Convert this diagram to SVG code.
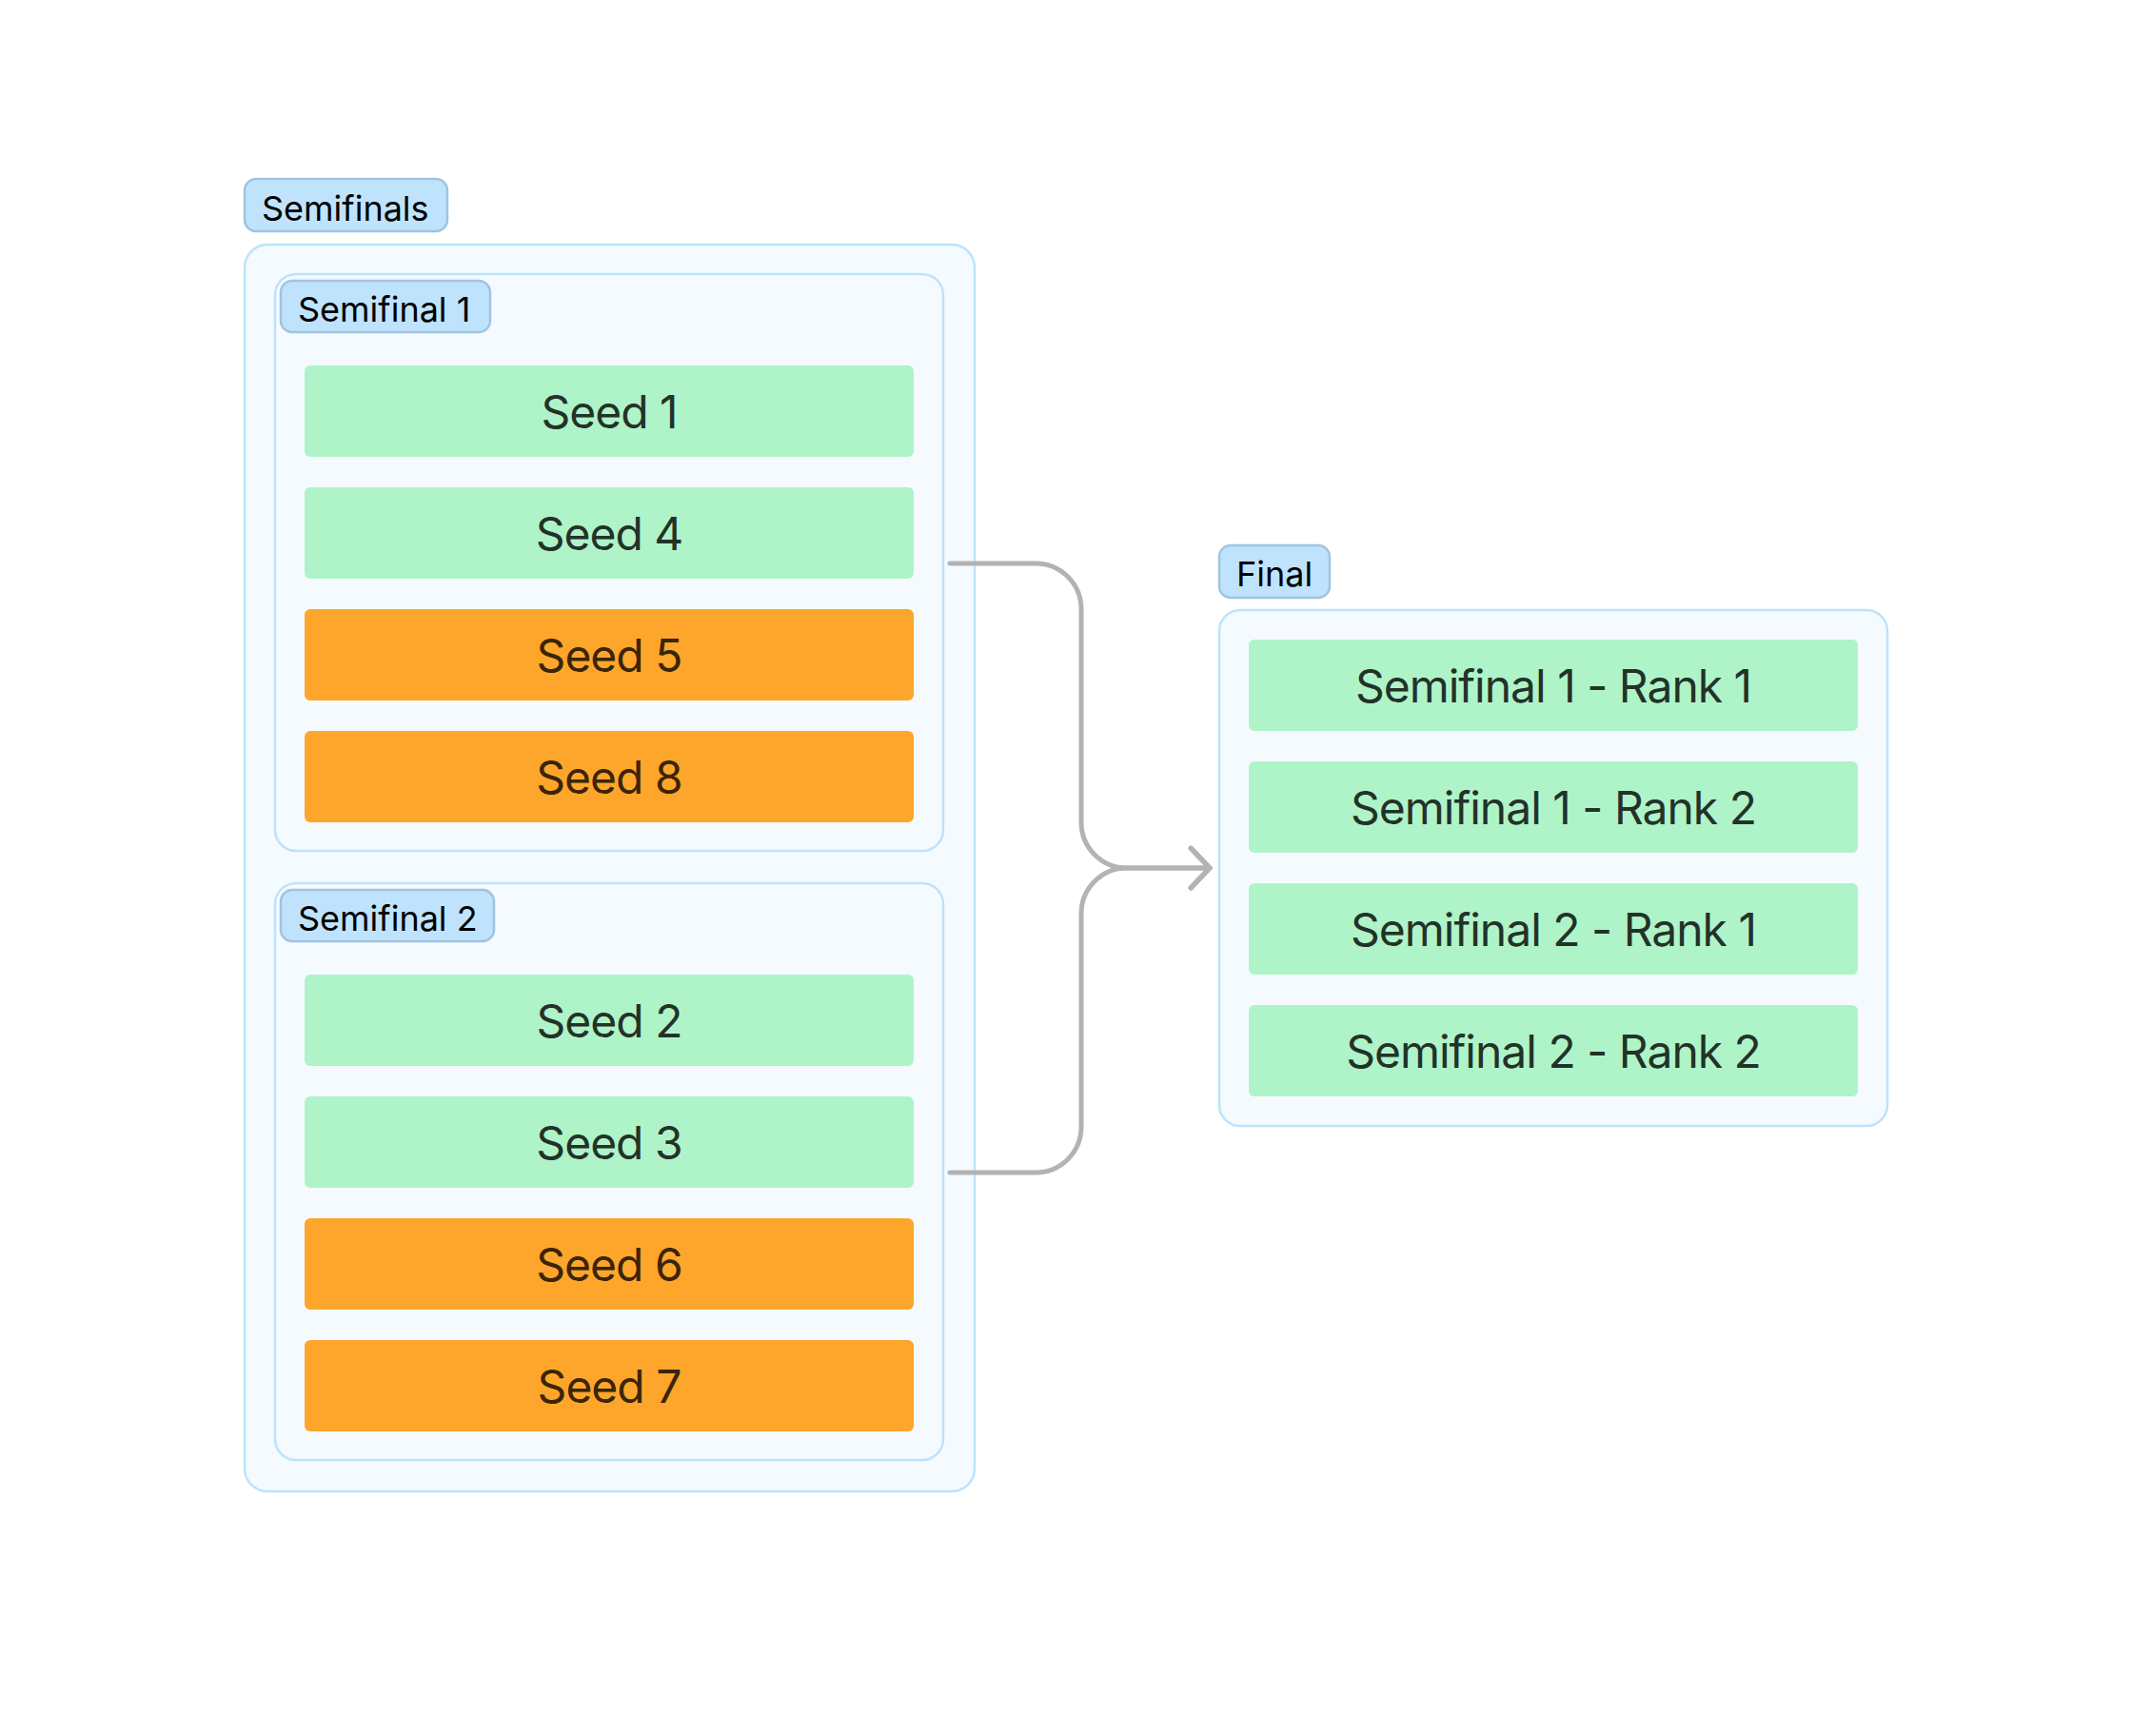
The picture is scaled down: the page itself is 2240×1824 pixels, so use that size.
<svg xmlns="http://www.w3.org/2000/svg" width="2240" height="1824" viewBox="0 0 2240 1824">
<defs>
<style>
.container{fill:#f5faff;stroke:#bde3fb;stroke-width:2.5}
.label{fill:#bfe3fd;stroke:#a0c4e0;stroke-width:2.5}
.label-text{font-family:Inter,"Noto Sans",sans-serif;font-size:36px;fill:#000}
.green{fill:#aff4c8}
.orange{fill:#fea62b}
.node-text{font-family:Inter,"Noto Sans",sans-serif;font-size:48px;text-anchor:middle;letter-spacing:-1px}
.gt{fill:#233229}
.ot{fill:#3a2506}
.conn{fill:none;stroke:#b3b3b3;stroke-width:5;stroke-linecap:round;stroke-linejoin:round}
</style>
<marker id="arrow" markerUnits="userSpaceOnUse" markerWidth="40" markerHeight="50" viewBox="-24 -24 30 48" refX="0" refY="0" orient="auto">
<path d="M-19,-20 L0,0 L-19,20" fill="none" stroke="#b3b3b3" stroke-width="5" stroke-linecap="round" stroke-linejoin="round"/>
</marker>
</defs>
<rect width="2240" height="1824" fill="#ffffff"/>

<g id="semifinals">
<rect class="container" x="257" y="257" width="767" height="1310" rx="24" ry="24"/>
<rect class="label" x="257" y="188" width="213" height="55" rx="12" ry="12"/>
<text class="label-text" x="275" y="232">Semifinals</text>
</g>

<g id="semifinal1">
<rect class="container" x="289" y="288" width="702" height="606" rx="22" ry="22"/>
<rect class="label" x="295" y="295" width="220" height="54" rx="12" ry="12"/>
<text class="label-text" x="313" y="338">Semifinal 1</text>
</g>

<g id="seed1"><rect class="green" x="320" y="384" width="640" height="96" rx="6"/><text class="node-text gt" x="640" y="450">Seed 1</text></g>
<g id="seed4"><rect class="green" x="320" y="512" width="640" height="96" rx="6"/><text class="node-text gt" x="640" y="578">Seed 4</text></g>
<g id="seed5"><rect class="orange" x="320" y="640" width="640" height="96" rx="6"/><text class="node-text ot" x="640" y="706">Seed 5</text></g>
<g id="seed8"><rect class="orange" x="320" y="768" width="640" height="96" rx="6"/><text class="node-text ot" x="640" y="834">Seed 8</text></g>

<g id="semifinal2">
<rect class="container" x="289" y="928" width="702" height="606" rx="22" ry="22"/>
<rect class="label" x="295" y="935" width="224" height="54" rx="12" ry="12"/>
<text class="label-text" x="313" y="978">Semifinal 2</text>
</g>

<g id="seed2"><rect class="green" x="320" y="1024" width="640" height="96" rx="6"/><text class="node-text gt" x="640" y="1090">Seed 2</text></g>
<g id="seed3"><rect class="green" x="320" y="1152" width="640" height="96" rx="6"/><text class="node-text gt" x="640" y="1218">Seed 3</text></g>
<g id="seed6"><rect class="orange" x="320" y="1280" width="640" height="96" rx="6"/><text class="node-text ot" x="640" y="1346">Seed 6</text></g>
<g id="seed7"><rect class="orange" x="320" y="1408" width="640" height="96" rx="6"/><text class="node-text ot" x="640" y="1474">Seed 7</text></g>

<g id="final">
<rect class="container" x="1281" y="641" width="702" height="542" rx="22" ry="22"/>
<rect class="label" x="1281" y="573" width="116" height="55" rx="12" ry="12"/>
<text class="label-text" x="1299" y="616">Final</text>
</g>

<g id="sf1-rank1"><rect class="green" x="1312" y="672" width="640" height="96" rx="6"/><text class="node-text gt" x="1632" y="738">Semifinal 1 - Rank 1</text></g>
<g id="sf1-rank2"><rect class="green" x="1312" y="800" width="640" height="96" rx="6"/><text class="node-text gt" x="1632" y="866">Semifinal 1 - Rank 2</text></g>
<g id="sf2-rank1"><rect class="green" x="1312" y="928" width="640" height="96" rx="6"/><text class="node-text gt" x="1632" y="994">Semifinal 2 - Rank 1</text></g>
<g id="sf2-rank2"><rect class="green" x="1312" y="1056" width="640" height="96" rx="6"/><text class="node-text gt" x="1632" y="1122">Semifinal 2 - Rank 2</text></g>

<g id="connectors">
<path class="conn" d="M998,592 H1088 A48,48 0 0 1 1136,640 V864 A48,48 0 0 0 1184,912 H1271" marker-end="url(#arrow)"/>
<path class="conn" d="M998,1232 H1088 A48,48 0 0 0 1136,1184 V960 A48,48 0 0 1 1184,912 H1271" marker-end="url(#arrow)"/>
</g>
</svg>
